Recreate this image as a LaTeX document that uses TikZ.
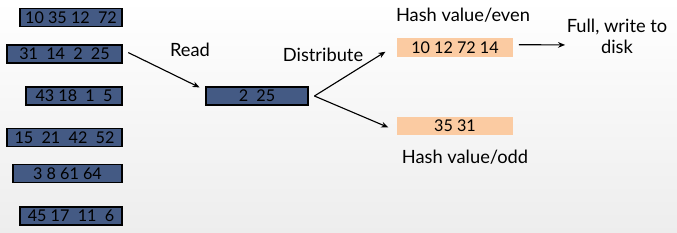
\documentclass[tikz,border=0pt]{standalone}
\usepackage{fontspec}
\setmainfont{Lato}
\usetikzlibrary{positioning,arrows.meta}
\definecolor{slate}{RGB}{68,90,132}
\definecolor{peach}{RGB}{251,203,162}

\tikzset{
  runbox/.style={draw=black, line width=1.1pt, fill=slate, inner sep=0pt,
    minimum height=0.46cm, font=\fontsize{11.5}{12}\selectfont},
  hashbox/.style={fill=peach, inner sep=0pt, minimum width=2.9cm,
    minimum height=0.46cm, font=\fontsize{11.5}{12}\selectfont},
  lbl/.style={font=\fontsize{13}{15}\selectfont, align=center, inner sep=1pt},
  arr/.style={-{Stealth[length=5pt,width=4pt]}, line width=0.8pt}
}

\begin{document}
\begin{tikzpicture}[x=0.025cm,y=-0.025cm]
\useasboundingbox (0,0) rectangle (677,232);
\shade[top color=white, bottom color=gray!14] (0,0) rectangle (677,232);
% input runs
\node[runbox, minimum width=2.55cm] (r1) at (71,17.5) {10 35 12\ \ 72};
\node[runbox, minimum width=2.87cm] (r2) at (64.5,54) {31\ \ 14\ \ 2\ \ 25};
\node[runbox, minimum width=2.4cm] (r3) at (74,96) {43 18\ \ 1\ \ 5};
\node[runbox, minimum width=2.87cm] (r4) at (64.5,137.5) {15\ \ 21\ \ 42\ \ 52};
\node[runbox, minimum width=2.72cm] (r5) at (67.5,173.5) {3 8 61 64};
\node[runbox, minimum width=2.55cm] (r6) at (71,216) {45 17\ \ 11\ \ 6};
% buffer
\node[runbox, minimum width=2.55cm] (buf) at (257,96) {2\ \ 25};
% hash buckets
\node[hashbox] (even) at (455,47.5) {10 12 72 14};
\node[hashbox] (odd) at (455,126) {35 31};
% labels
\node[lbl] (read) at (190,50) {Read};
\node[lbl] (dist) at (323,55) {Distribute};
\node[lbl] (heven) at (463,15) {Hash value/even};
\node[lbl] (hodd) at (465,157) {Hash value/odd};
\node[lbl] (full) at (617,36.5) {Full, write to\\disk};

\draw[arr] ([xshift=4pt,yshift=1pt]r2.east) -- ([xshift=-4pt,yshift=-1pt]buf.north west);
\draw[arr] ([xshift=4pt]buf.east) -- ([xshift=-8pt,yshift=-3pt]even.west);
\draw[arr] ([xshift=4pt]buf.east) -- ([xshift=-6pt,yshift=-1pt]odd.west);
\draw[arr] ([xshift=4pt,yshift=2pt]even.east) -- ([xshift=0pt,yshift=-6pt]full.west);
\end{tikzpicture}
\end{document}
